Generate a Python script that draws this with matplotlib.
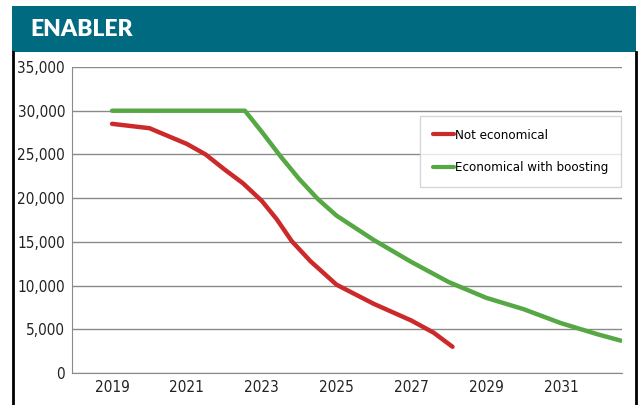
import matplotlib.pyplot as plt
from matplotlib.patches import Rectangle
from matplotlib.lines import Line2D
from matplotlib import font_manager

# data
years_red = [2019, 2020, 2021, 2021.5, 2022, 2022.5, 2023, 2023.4, 2023.8, 2024.3, 2025, 2026, 2027, 2027.6, 2028.1]
not_economical = [28500, 28000, 26200, 25000, 23300, 21700, 19700, 17600, 15100, 12800, 10100, 7900, 6000, 4600, 3000]

years_green = [2019, 2022.55, 2023, 2023.5, 2024, 2024.5, 2025, 2026, 2027, 2028, 2029, 2030, 2031, 2032, 2032.6]
economical_boosting = [30000, 30000, 27600, 24800, 22200, 19900, 18000, 15200, 12700, 10400, 8600, 7300, 5700, 4400, 3700]

yticks = [0, 5000, 10000, 15000, 20000, 25000, 30000, 35000]
xticks = [2019, 2021, 2023, 2025, 2027, 2029, 2031]

tick_font = font_manager.FontProperties(family='DejaVu Sans', stretch='condensed', size=11)
leg_font = font_manager.FontProperties(family='DejaVu Sans', stretch='condensed', size=9.5)

fig = plt.figure(figsize=(6.41, 4.05), dpi=100)
W, H = 641, 405

# header banner
fig.patches.append(Rectangle((12 / W, 1 - 52 / H), 624 / W, 46 / H, transform=fig.transFigure,
                             facecolor='#006b80', edgecolor='none'))
fig.text(30 / W, 1 - 30 / H, 'ENABLER', color='white', fontsize=16.5, fontweight='heavy',
         va='center', ha='left', family=['Lato', 'DejaVu Sans'])
# side borders
fig.add_artist(Line2D([12.5 / W, 12.5 / W], [0, 1 - 52 / H], transform=fig.transFigure, color='black', lw=2))
fig.add_artist(Line2D([635.5 / W, 635.5 / W], [0, 1 - 52 / H], transform=fig.transFigure, color='black', lw=2))

ax = fig.add_axes([72 / W, 1 - 373 / H, 550 / W, 306 / H])
ax.plot(years_red, not_economical, color='#cc2a2a', lw=3.2, solid_capstyle='round', label='Not economical')
ax.plot(years_green, economical_boosting, color='#56a845', lw=3.2, solid_capstyle='round',
        label='Economical with boosting')

ax.set_xlim(2017.93, 2032.63)
ax.set_ylim(0, 35000)
ax.set_yticks(yticks)
ax.set_yticklabels([f'{v:,}' for v in yticks])
ax.set_xticks(xticks)
ax.yaxis.grid(True, color='#8a8a8a', lw=1)
ax.set_axisbelow(True)
for s in ['top', 'right']:
    ax.spines[s].set_visible(False)
for s in ['left', 'bottom']:
    ax.spines[s].set_color('#8a8a8a')
ax.tick_params(axis='y', length=0, pad=5, colors='#222222')
ax.tick_params(axis='x', length=0, pad=5, colors='#222222')
for lab in ax.get_xticklabels() + ax.get_yticklabels():
    lab.set_fontproperties(tick_font)

leg = ax.legend(loc='upper left', bbox_to_anchor=((420 - 72) / 550, (373 - 116) / 306),
                borderaxespad=0, prop=leg_font, frameon=True, fancybox=False,
                handlelength=1.6, handletextpad=0.1, borderpad=0.95, labelspacing=1.5)
leg.get_frame().set_edgecolor('#cccccc')
leg.get_frame().set_linewidth(1)
for l in leg.get_lines():
    l.set_linewidth(3)

plt.savefig('out.png', dpi=100)
plt.close()
